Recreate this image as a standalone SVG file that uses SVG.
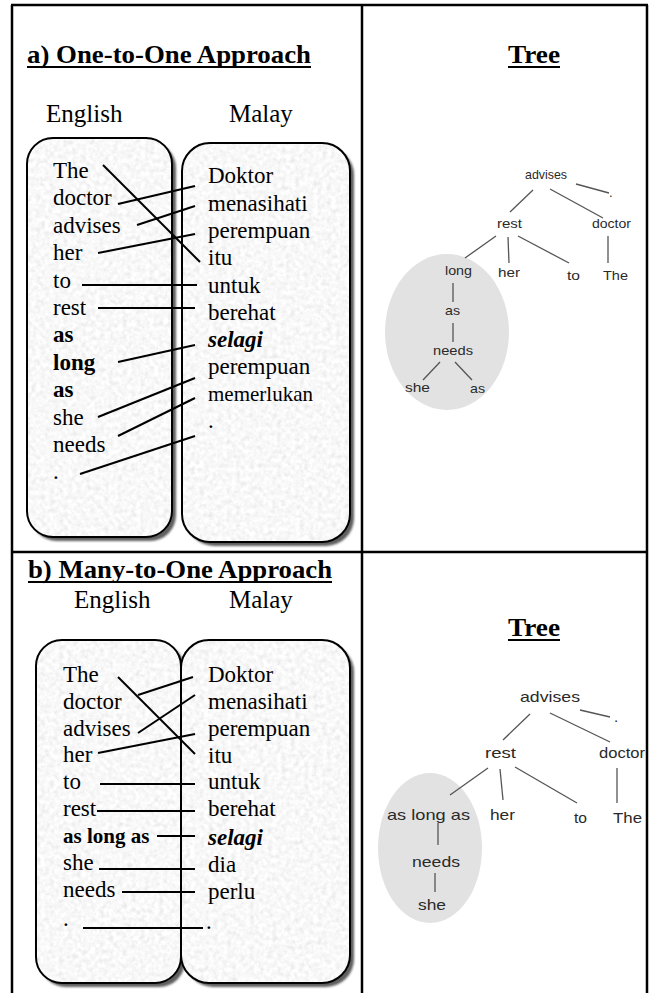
<svg xmlns="http://www.w3.org/2000/svg" width="651" height="993" viewBox="0 0 651 993">
<style>
.frame{stroke:#000;stroke-width:2.5;fill:none}
.hd{font-family:"Liberation Serif",serif;font-weight:bold;font-size:25px;fill:#000}
.ul{stroke:#000;stroke-width:2}
.lang{font-family:"Liberation Serif",serif;font-size:25px;fill:#000}
.w{font-family:"Liberation Serif",serif;font-size:23px;fill:#000}
.b{font-weight:bold}
.bi{font-weight:bold;font-style:italic}
.al{stroke:#000;stroke-width:2;fill:none}
.boxline{fill:none;stroke:#000;stroke-width:2}
.shadow{fill:#5e5e5e}
.t{font-family:"Liberation Sans",sans-serif;fill:#2a2a2a}
.ta{font-size:13px}
.tb{font-size:15px}
.tl{stroke:#555;stroke-width:1.3;fill:none}
.ell{fill:#e2e2e2}
</style>
<defs>
<filter id="stone" x="0" y="0" width="1" height="1">
<feTurbulence type="fractalNoise" baseFrequency="0.22" numOctaves="3" seed="7"/>
<feColorMatrix type="matrix" values="0.22 0.22 0 0 0.72  0.22 0.22 0 0 0.72  0.22 0.22 0 0 0.72  0 0 0 0 1"/>
<feComposite in2="SourceAlpha" operator="in"/>
</filter>
<filter id="soft" x="-0.1" y="-0.1" width="1.2" height="1.2">
<feGaussianBlur stdDeviation="0.8"/>
</filter>
</defs>
<rect width="651" height="993" fill="#fff"/>

<g id="table">
<line class="frame" x1="11" y1="5" x2="648" y2="5"/>
<line class="frame" x1="12" y1="5" x2="12" y2="993"/>
<line class="frame" x1="647" y1="5" x2="647" y2="993"/>
<line class="frame" x1="362" y1="5" x2="362" y2="993"/>
<line class="frame" x1="12" y1="552" x2="647" y2="552"/>
</g>

<g id="heading-a">
<text class="hd" x="27" y="63" textLength="284" lengthAdjust="spacingAndGlyphs">a) One-to-One Approach</text>
<line class="ul" x1="27" y1="67" x2="311" y2="67"/>
</g>
<g id="heading-tree-a">
<text class="hd" x="508" y="63" textLength="52" lengthAdjust="spacingAndGlyphs">Tree</text>
<line class="ul" x1="508" y1="67" x2="560" y2="67"/>
</g>
<g id="lang-a">
<text class="lang" x="46" y="122">English</text>
<text class="lang" x="229" y="122">Malay</text>
</g>

<g id="panel-a-english">
<rect class="shadow" x="31" y="142" width="145" height="399" rx="26" filter="url(#soft)"/>
<rect x="27" y="138" width="145" height="399" rx="26" fill="#eee" filter="url(#stone)"/>
<rect class="boxline" x="27" y="138" width="145" height="399" rx="26"/>
</g>
<g id="panel-a-malay">
<rect class="shadow" x="186" y="147" width="168" height="399" rx="28" filter="url(#soft)"/>
<rect x="182" y="143" width="168" height="399" rx="28" fill="#eee" filter="url(#stone)"/>
<rect class="boxline" x="182" y="143" width="168" height="399" rx="28"/>
</g>

<g id="words-a-english" class="w">
<g id="a-en-the"><text x="53" y="178">The</text></g>
<g id="a-en-doctor"><text x="53" y="205">doctor</text></g>
<g id="a-en-advises"><text x="53" y="233">advises</text></g>
<g id="a-en-her"><text x="53" y="260">her</text></g>
<g id="a-en-to"><text x="53" y="288">to</text></g>
<g id="a-en-rest"><text x="53" y="315">rest</text></g>
<g id="a-en-as1"><text class="b" x="53" y="342">as</text></g>
<g id="a-en-long"><text class="b" x="53" y="370">long</text></g>
<g id="a-en-as2"><text class="b" x="53" y="397">as</text></g>
<g id="a-en-she"><text x="53" y="425">she</text></g>
<g id="a-en-needs"><text x="53" y="452">needs</text></g>
<g id="a-en-dot"><text x="53" y="479">.</text></g>
</g>
<g id="words-a-malay" class="w">
<g id="a-ms-doktor"><text x="208" y="183">Doktor</text></g>
<g id="a-ms-menasihati"><text x="208" y="211">menasihati</text></g>
<g id="a-ms-perempuan1"><text x="208" y="238">perempuan</text></g>
<g id="a-ms-itu"><text x="208" y="265">itu</text></g>
<g id="a-ms-untuk"><text x="208" y="293">untuk</text></g>
<g id="a-ms-berehat"><text x="208" y="320">berehat</text></g>
<g id="a-ms-selagi"><text class="bi" x="208" y="347">selagi</text></g>
<g id="a-ms-perempuan2"><text x="208" y="374">perempuan</text></g>
<g id="a-ms-memerlukan"><text x="208" y="401" style="font-size:21px">memerlukan</text></g>
<g id="a-ms-dot"><text x="208" y="428">.</text></g>
</g>

<g id="connectors-a">
<line class="al" x1="103" y1="165" x2="200" y2="262"/>
<line class="al" x1="118" y1="204" x2="195" y2="186"/>
<line class="al" x1="137" y1="225" x2="195" y2="206"/>
<line class="al" x1="98" y1="253" x2="195" y2="234"/>
<line class="al" x1="82" y1="285" x2="197" y2="285"/>
<line class="al" x1="98" y1="308" x2="195" y2="308"/>
<line class="al" x1="118" y1="362" x2="195" y2="345"/>
<line class="al" x1="98" y1="417" x2="195" y2="378"/>
<line class="al" x1="118" y1="436" x2="195" y2="398"/>
<line class="al" x1="80" y1="474" x2="195" y2="436"/>
</g>

<g id="tree-a">
<ellipse class="ell" cx="447" cy="332" rx="62" ry="78"/>
<g id="tree-a-edges">
<line class="tl" x1="576" y1="184" x2="609" y2="193"/>
<line class="tl" x1="533" y1="190" x2="510" y2="212"/>
<line class="tl" x1="550" y1="189" x2="603" y2="218"/>
<line class="tl" x1="496" y1="236" x2="465" y2="258"/>
<line class="tl" x1="508" y1="237" x2="509" y2="263"/>
<line class="tl" x1="518" y1="236" x2="569" y2="263"/>
<line class="tl" x1="608" y1="236" x2="608" y2="263"/>
<line class="tl" x1="453" y1="283" x2="453" y2="302"/>
<line class="tl" x1="453" y1="323" x2="453" y2="342"/>
<line class="tl" x1="440" y1="362" x2="423" y2="380"/>
<line class="tl" x1="455" y1="362" x2="472" y2="380"/>
</g>
<g id="ta-advises"><text class="t ta" x="525" y="179" textLength="42" lengthAdjust="spacingAndGlyphs">advises</text></g>
<g id="ta-dot"><text class="t ta" x="609" y="197">.</text></g>
<g id="ta-rest"><text class="t ta" x="497" y="228" textLength="25" lengthAdjust="spacingAndGlyphs">rest</text></g>
<g id="ta-doctor"><text class="t ta" x="592" y="228" textLength="39" lengthAdjust="spacingAndGlyphs">doctor</text></g>
<g id="ta-long"><text class="t ta" x="445" y="275" textLength="27" lengthAdjust="spacingAndGlyphs">long</text></g>
<g id="ta-her"><text class="t ta" x="498" y="277" textLength="22" lengthAdjust="spacingAndGlyphs">her</text></g>
<g id="ta-to"><text class="t ta" x="567" y="280" textLength="13" lengthAdjust="spacingAndGlyphs">to</text></g>
<g id="ta-the"><text class="t ta" x="603" y="280" textLength="25" lengthAdjust="spacingAndGlyphs">The</text></g>
<g id="ta-as1"><text class="t ta" x="445" y="315" textLength="15" lengthAdjust="spacingAndGlyphs">as</text></g>
<g id="ta-needs"><text class="t ta" x="433" y="355" textLength="40" lengthAdjust="spacingAndGlyphs">needs</text></g>
<g id="ta-she"><text class="t ta" x="405" y="392" textLength="25" lengthAdjust="spacingAndGlyphs">she</text></g>
<g id="ta-as2"><text class="t ta" x="470" y="393" textLength="15" lengthAdjust="spacingAndGlyphs">as</text></g>
</g>

<g id="heading-b">
<text class="hd" x="28" y="578" textLength="304" lengthAdjust="spacingAndGlyphs">b) Many-to-One Approach</text>
<line class="ul" x1="28" y1="582" x2="332" y2="582"/>
</g>
<g id="heading-tree-b">
<text class="hd" x="508" y="636" textLength="52" lengthAdjust="spacingAndGlyphs">Tree</text>
<line class="ul" x1="508" y1="640" x2="560" y2="640"/>
</g>
<g id="lang-b">
<text class="lang" x="74" y="608">English</text>
<text class="lang" x="229" y="608">Malay</text>
</g>

<g id="panel-b-english">
<rect class="shadow" x="40" y="644" width="145" height="343" rx="26" filter="url(#soft)"/>
<rect x="36" y="640" width="145" height="343" rx="26" fill="#eee" filter="url(#stone)"/>
<rect class="boxline" x="36" y="640" width="145" height="343" rx="26"/>
</g>
<g id="panel-b-malay">
<rect class="shadow" x="185" y="644" width="169" height="343" rx="28" filter="url(#soft)"/>
<rect x="181" y="640" width="169" height="343" rx="28" fill="#eee" filter="url(#stone)"/>
<rect class="boxline" x="181" y="640" width="169" height="343" rx="28"/>
</g>

<g id="words-b-english" class="w">
<g id="b-en-the"><text x="63" y="682">The</text></g>
<g id="b-en-doctor"><text x="63" y="709">doctor</text></g>
<g id="b-en-advises"><text x="63" y="736">advises</text></g>
<g id="b-en-her"><text x="63" y="762">her</text></g>
<g id="b-en-to"><text x="63" y="789">to</text></g>
<g id="b-en-rest"><text x="63" y="816">rest</text></g>
<g id="b-en-aslongas"><text class="b" x="63" y="843" style="font-size:21px">as long as</text></g>
<g id="b-en-she"><text x="63" y="870">she</text></g>
<g id="b-en-needs"><text x="63" y="897">needs</text></g>
<g id="b-en-dot"><text x="63" y="926">.</text></g>
</g>
<g id="words-b-malay" class="w">
<g id="b-ms-doktor"><text x="208" y="682">Doktor</text></g>
<g id="b-ms-menasihati"><text x="208" y="709">menasihati</text></g>
<g id="b-ms-perempuan"><text x="208" y="736">perempuan</text></g>
<g id="b-ms-itu"><text x="208" y="763">itu</text></g>
<g id="b-ms-untuk"><text x="208" y="789">untuk</text></g>
<g id="b-ms-berehat"><text x="208" y="816">berehat</text></g>
<g id="b-ms-selagi"><text class="bi" x="208" y="845">selagi</text></g>
<g id="b-ms-dia"><text x="208" y="872">dia</text></g>
<g id="b-ms-perlu"><text x="208" y="899">perlu</text></g>
<g id="b-ms-dot"><text x="206" y="929">.</text></g>
</g>

<g id="connectors-b">
<line class="al" x1="118" y1="677" x2="195" y2="754"/>
<line class="al" x1="138" y1="695" x2="193" y2="677"/>
<line class="al" x1="138" y1="733" x2="195" y2="695"/>
<line class="al" x1="98" y1="753" x2="195" y2="734"/>
<line class="al" x1="100" y1="784" x2="195" y2="784"/>
<line class="al" x1="97" y1="811" x2="195" y2="811"/>
<line class="al" x1="157" y1="836" x2="195" y2="836"/>
<line class="al" x1="99" y1="869" x2="195" y2="869"/>
<line class="al" x1="122" y1="892" x2="195" y2="892"/>
<line class="al" x1="83" y1="928" x2="203" y2="928"/>
</g>

<g id="tree-b">
<ellipse class="ell" cx="430" cy="848" rx="52" ry="75"/>
<g id="tree-b-edges">
<line class="tl" x1="580" y1="710" x2="610" y2="717"/>
<line class="tl" x1="530" y1="714" x2="503" y2="740"/>
<line class="tl" x1="550" y1="713" x2="610" y2="742"/>
<line class="tl" x1="488" y1="768" x2="450" y2="795"/>
<line class="tl" x1="500" y1="769" x2="503" y2="800"/>
<line class="tl" x1="515" y1="767" x2="577" y2="803"/>
<line class="tl" x1="617" y1="768" x2="617" y2="803"/>
<line class="tl" x1="438" y1="823" x2="438" y2="845"/>
<line class="tl" x1="435" y1="873" x2="435" y2="892"/>
</g>
<g id="tb-advises"><text class="t tb" x="520" y="702" textLength="60" lengthAdjust="spacingAndGlyphs">advises</text></g>
<g id="tb-dot"><text class="t tb" x="614" y="722">.</text></g>
<g id="tb-rest"><text class="t tb" x="485" y="758" textLength="31" lengthAdjust="spacingAndGlyphs">rest</text></g>
<g id="tb-doctor"><text class="t tb" x="599" y="758" textLength="46" lengthAdjust="spacingAndGlyphs">doctor</text></g>
<g id="tb-aslongas"><text class="t tb" x="387" y="820" textLength="83" lengthAdjust="spacingAndGlyphs">as long as</text></g>
<g id="tb-her"><text class="t tb" x="490" y="820" textLength="25" lengthAdjust="spacingAndGlyphs">her</text></g>
<g id="tb-to"><text class="t tb" x="574" y="823" textLength="13" lengthAdjust="spacingAndGlyphs">to</text></g>
<g id="tb-the"><text class="t tb" x="613" y="823" textLength="29" lengthAdjust="spacingAndGlyphs">The</text></g>
<g id="tb-needs"><text class="t tb" x="412" y="867" textLength="48" lengthAdjust="spacingAndGlyphs">needs</text></g>
<g id="tb-she"><text class="t tb" x="418" y="910" textLength="28" lengthAdjust="spacingAndGlyphs">she</text></g>
</g>
</svg>
